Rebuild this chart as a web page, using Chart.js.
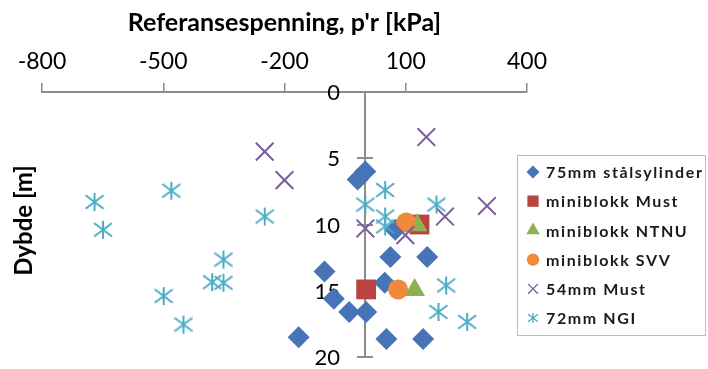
<!DOCTYPE html>
<html lang="no">
<head>
    <meta charset="UTF-8">
    <title>Referansespenning mot dybde</title>
    <script src="https://cdn.jsdelivr.net/npm/chart.js"></script>
    <style>
        body { margin: 0; background: #fff; }
        #wrap { width: 708px; height: 369px; }
    </style>
</head>
<body>
<div id="wrap">
    <canvas id="scatterChart" width="708" height="369"></canvas>
</div>

<script>
    // Verdier lest av figuren: x = p'r [kPa], y = dybde [m]
    const xTicks = [-800, -500, -200, 100, 400];
    const yTicks = [0, 5, 10, 15, 20];

    const seriesNames = ['75mm stålsylinder', 'miniblokk Must', 'miniblokk NTNU', 'miniblokk SVV', '54mm Must', '72mm NGI'];

    const stalsylinder75 = [
        {x: 0, y: 6.0}, {x: -19, y: 6.6}, {x: 74, y: 10.4}, {x: 62, y: 12.45}, {x: 153, y: 12.45},
        {x: -101, y: 13.55}, {x: 48, y: 14.4}, {x: -78, y: 15.6}, {x: -40, y: 16.6}, {x: 2, y: 16.6},
        {x: -165, y: 18.5}, {x: 52, y: 18.65}, {x: 143, y: 18.65}
    ];
    const miniblokkMust = [{x: 134, y: 10.0}, {x: 2, y: 14.9}];
    const miniblokkNTNU = [{x: 128, y: 10.05}, {x: 122, y: 14.95}];
    const miniblokkSVV = [{x: 101, y: 9.85}, {x: 81, y: 14.9}];
    const must54 = [
        {x: 151, y: 3.4}, {x: -249, y: 4.5}, {x: -200, y: 6.65}, {x: 301, y: 8.6},
        {x: 197, y: 9.4}, {x: 0, y: 10.3}, {x: 99, y: 10.8}
    ];
    const ngi72 = [
        {x: 49, y: 7.4}, {x: 0, y: 8.5}, {x: 176, y: 8.5}, {x: 49, y: 9.4}, {x: 49, y: 10.15},
        {x: 200, y: 14.6}, {x: 181, y: 16.6}, {x: 252, y: 17.35}, {x: -670, y: 8.3},
        {x: -649, y: 10.4}, {x: -480, y: 7.45}, {x: -249, y: 9.4}, {x: -351, y: 12.65},
        {x: -379, y: 14.35}, {x: -351, y: 14.4}, {x: -499, y: 15.4}, {x: -450, y: 17.55}
    ];

    const axisColor = '#8c8c8c';
    const fontName = 'Lato, "Open Sans", sans-serif';

    // stjerne-markør som i Excel (loddrett strek + to diagonaler)
    function makeStar(size, lw, color) {
        const c = document.createElement('canvas');
        c.width = size;
        c.height = size;
        const g = c.getContext('2d');
        const m = size / 2;
        const r = size / 2 - 1;
        g.strokeStyle = color;
        g.lineWidth = lw;
        g.beginPath();
        g.moveTo(m, m - r); g.lineTo(m, m + r);
        g.moveTo(m - r, m - r * 0.75); g.lineTo(m + r, m + r * 0.75);
        g.moveTo(m - r, m + r * 0.75); g.lineTo(m + r, m - r * 0.75);
        g.stroke();
        return c;
    }

    const starBig = makeStar(20, 2, '#4BACC6');
    const starSmall = makeStar(12, 1.3, '#4BACC6');

    const legendStyles = [
        {style: 'rectRot', radius: 5.5},
        {style: 'rect', radius: 7},
        {style: 'triangle', radius: 6.5},
        {style: 'circle', radius: 5.5},
        {style: 'crossRot', radius: 7},
        {style: starSmall, radius: 6}
    ];

    // loddrett akse ved x = 0, med kryssende merker, tall og aksetittel
    const depthAxis = {
        id: 'depthAxis',
        beforeDatasetsDraw(chart) {
            const c = chart.ctx;
            const sy = chart.scales.y;
            const x0 = Math.round(chart.scales.x.getPixelForValue(0));
            c.save();
            c.strokeStyle = axisColor;
            c.lineWidth = 2;
            c.beginPath();
            c.moveTo(x0, sy.getPixelForValue(0));
            c.lineTo(x0, sy.getPixelForValue(20));
            yTicks.forEach(v => {
                const py = Math.round(sy.getPixelForValue(v));
                c.moveTo(x0 - 8, py);
                c.lineTo(x0 + 8, py);
            });
            c.stroke();
            c.fillStyle = '#000';
            c.font = '22px ' + fontName;
            c.textAlign = 'right';
            c.textBaseline = 'middle';
            yTicks.forEach(v => {
                c.fillText(String(v), x0 - 25, sy.getPixelForValue(v) + 1);
            });
            c.translate(24, (sy.top + sy.bottom) / 2 - 4);
            c.rotate(-Math.PI / 2);
            c.textAlign = 'center';
            c.font = 'bold 24px ' + fontName;
            c.fillText('Dybde [m]', 0, 0);
            c.restore();
        }
    };

    const boxLegend = {
        id: 'boxLegend',
        afterDraw(chart) {
            const c = chart.ctx;
            const left = Math.round(chart.chartArea.right) - 10;
            const top = 155;
            c.save();
            c.strokeStyle = '#bcbcbc';
            c.lineWidth = 1;
            c.strokeRect(left + 0.5, top + 0.5, 188, 180);
            c.font = 'bold 16px ' + fontName;
            c.textBaseline = 'middle';
            if ('letterSpacing' in c) c.letterSpacing = '1.6px';
            chart.data.datasets.forEach((ds, i) => {
                const y = top + 17 + i * 29.2;
                const st = legendStyles[i];
                c.fillStyle = ds.backgroundColor;
                c.strokeStyle = ds.borderColor;
                c.lineWidth = 1.3;
                Chart.helpers.drawPoint(c, {pointStyle: st.style, radius: st.radius, rotation: 0, borderWidth: 1.3}, left + 16, y);
                c.fillStyle = '#1a1a1a';
                c.fillText(ds.label, left + 29, y + 1);
            });
            c.restore();
        }
    };

    const ctx = document.getElementById('scatterChart').getContext('2d');
    new Chart(ctx, {
        type: 'scatter',
        data: {
            datasets: [
                {
                    label: seriesNames[0], data: stalsylinder75, order: 6,
                    pointStyle: 'rectRot', pointRadius: 11,
                    backgroundColor: '#4674B6', borderColor: '#4674B6', borderWidth: 0
                },
                {
                    label: seriesNames[1], data: miniblokkMust, order: 5,
                    pointStyle: 'rect', pointRadius: 14,
                    backgroundColor: '#B9433F', borderColor: '#B9433F', borderWidth: 0
                },
                {
                    label: seriesNames[2], data: miniblokkNTNU, order: 4,
                    pointStyle: 'triangle', pointRadius: 12,
                    backgroundColor: '#8FB050', borderColor: '#8FB050', borderWidth: 0
                },
                {
                    label: seriesNames[3], data: miniblokkSVV, order: 3,
                    pointStyle: 'circle', pointRadius: 10,
                    backgroundColor: '#EE8A3C', borderColor: '#EE8A3C', borderWidth: 0
                },
                {
                    label: seriesNames[4], data: must54, order: 2,
                    pointStyle: 'crossRot', pointRadius: 12.5,
                    backgroundColor: '#7B5C9E', borderColor: '#7B5C9E', borderWidth: 2
                },
                {
                    label: seriesNames[5], data: ngi72, order: 1,
                    pointStyle: starBig, pointRadius: 10,
                    backgroundColor: '#4BACC6', borderColor: '#4BACC6', borderWidth: 2
                }
            ]
        },
        plugins: [depthAxis, boxLegend],
        options: {
            responsive: false,
            animation: false,
            events: [],
            layout: {
                autoPadding: false,
                padding: {left: 42, top: 8, right: 181, bottom: 12}
            },
            plugins: {
                legend: {display: false},
                tooltip: {enabled: false}
            },
            scales: {
                x: {
                    type: 'linear',
                    position: 'top',
                    min: -800,
                    max: 400,
                    afterBuildTicks: s => { s.ticks = xTicks.map(v => ({value: v})); },
                    afterFit: s => { s.height = 84; },
                    ticks: {
                        color: '#000',
                        font: {family: fontName, size: 23, lineHeight: 1},
                        padding: 10
                    },
                    grid: {
                        drawOnChartArea: false,
                        color: axisColor,
                        lineWidth: 1.5,
                        tickLength: 9
                    },
                    border: {color: axisColor, width: 2},
                    title: {
                        display: true,
                        text: "Referansespenning, p'r [kPa]",
                        color: '#000',
                        font: {family: fontName, size: 25, weight: 'bold', lineHeight: 1.2},
                        padding: {top: 0, bottom: 6}
                    }
                },
                y: {
                    type: 'linear',
                    display: false,
                    min: 0,
                    max: 20,
                    reverse: true
                }
            }
        }
    });
</script>
</body>
</html>
